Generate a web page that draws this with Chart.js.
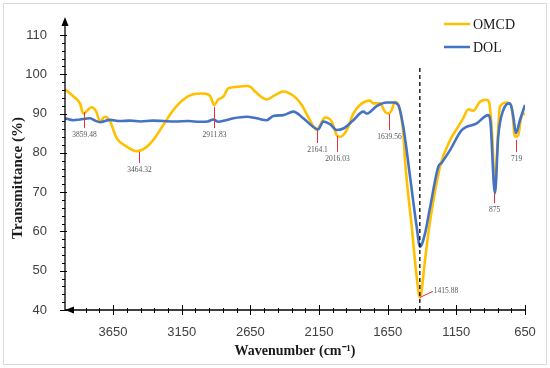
<!DOCTYPE html>
<html>
<head>
<meta charset="utf-8">
<script src="https://cdn.jsdelivr.net/npm/chart.js@4"></script>
<style>
html,body{margin:0;padding:0;background:#fff;}
#wrap{width:550px;height:368px;position:relative;}
</style>
</head>
<body>
<div id="wrap"><canvas id="c" width="550" height="368"></canvas></div>
<script>
// ---- data ----
const seriesNames = ['OMCD', 'DOL'];
const omcdWavenumber = [4000,3940,3891,3867,3806,3774,3745,3709,3672,3623,3551,3478,3417,3357,3284,3211,3138,3066,2993,2944,2913,2884,2847,2811,2750,2677,2645,2616,2531,2471,2410,2361,2313,2276,2216,2167,2143,2106,2058,2021,1997,1948,1900,1852,1779,1755,1706,1670,1646,1621,1597,1573,1536,1524,1475,1439,1415,1378,1352,1329,1269,1196,1140,1100,1063,1027,978,929,910,890,868,847,832,783,747,723,699,674,650];
const omcdValues     = [96.2,94.4,92.6,90.0,91.6,90.6,88.0,89.2,88.0,83.7,81.6,80.4,81.2,83.3,87.1,90.9,93.6,94.9,95.1,94.5,92.2,93.6,94.3,96.4,96.8,97.0,96.7,95.6,93.6,94.7,95.6,95.1,93.8,92.2,88.3,85.8,87.0,89.0,88.0,84.5,84.1,85.8,90.0,92.2,93.3,92.6,92.6,90.5,90.0,90.9,93.0,92.2,85.0,78.2,61.2,48.5,43.2,52.7,60.0,65.4,76.5,83.2,86.5,88.8,91.1,90.7,93.0,93.5,92.6,85.0,71.0,85.0,91.8,92.8,91.8,84.1,84.5,89.6,90.0];
const dolWavenumber  = [4000,3940,3891,3818,3780,3745,3672,3600,3527,3450,3360,3286,3200,3100,3017,2960,2920,2884,2830,2774,2677,2604,2531,2483,2410,2337,2265,2192,2155,2119,2070,2021,1973,1900,1828,1803,1730,1657,1609,1573,1536,1487,1439,1415,1378,1342,1281,1257,1196,1111,1002,918,902,869,845,808,759,735,716,687,650];
const dolValues      = [88.8,88.3,88.5,88.8,88.2,87.8,88.4,88.1,88.2,88.0,88.2,88.1,88.0,88.1,87.9,88.0,88.5,87.9,88.3,88.8,89.2,88.8,88.3,89.4,89.6,90.5,88.8,86.6,86.0,88.0,87.3,85.8,86.2,88.3,90.5,90.0,91.9,92.8,92.8,92.2,86.6,73.9,61.2,56.1,59.5,66.0,76.5,77.5,80.7,85.8,87.5,89.6,88.0,69.7,84.1,90.9,92.6,89.2,85.0,88.3,92.2];
const xTickLabels = [3650, 3150, 2650, 2150, 1650, 1150, 650];
const yTickLabels = [40, 50, 60, 70, 80, 90, 100, 110];
const peakWavenumbers = [3859.48, 3464.32, 2911.83, 2164.1, 2016.03, 1639.56, 875, 719];
const peakLabels      = ['3859.48', '3464.32', '2911.83', '2164.1', '2016.03', '1639.56', '875', '719'];
const peakTop         = [90.4, 80.2, 91.7, 85.8, 84.3, 89.9, 69.8, 83.3];
const peakBottom      = [86.3, 77.4, 86.3, 82.5, 80.2, 85.8, 67.2, 80.2];
const mainPeak = 1415.88, mainPeakLabel = '1415.88', mainPeakValue = 43.2;

const colors = ['#FFC000', '#4472C4'];

function pts(xs, ys){ return xs.map((x,i)=>({x:x, y:ys[i]})); }

const deco = {
  id: 'deco',
  beforeDraw(chart){
    const c = chart.ctx;
    c.save();
    c.fillStyle = '#fff';
    c.fillRect(0,0,chart.width,chart.height);
    c.strokeStyle = '#d9d9d9';
    c.lineWidth = 1;
    c.strokeRect(3.5,3.5,543,361);
    c.restore();
  },
  afterDatasetsDraw(chart){
    const c = chart.ctx, xs = chart.scales.x, ys = chart.scales.y;
    c.save();
    const xp = xs.getPixelForValue(mainPeak);
    c.strokeStyle = '#000'; c.lineWidth = 1.3; c.setLineDash([4,3]);
    c.beginPath(); c.moveTo(xp, ys.getPixelForValue(101.6)); c.lineTo(xp, ys.getPixelForValue(40)); c.stroke();
    c.setLineDash([]);
    c.strokeStyle = '#e8303a'; c.lineWidth = 1;
    c.fillStyle = '#555';
    c.font = '7.5px "Liberation Serif"';
    c.textAlign = 'center'; c.textBaseline = 'top';
    peakWavenumbers.forEach((w,i)=>{
      const px = Math.round(xs.getPixelForValue(w)) + 0.5;
      const y1 = ys.getPixelForValue(peakTop[i]), y2 = ys.getPixelForValue(peakBottom[i]);
      c.beginPath(); c.moveTo(px,y1); c.lineTo(px,y2); c.stroke();
      c.fillText(peakLabels[i], px, y2 + 3);
    });
    const my = ys.getPixelForValue(mainPeakValue);
    c.beginPath(); c.moveTo(xp, my); c.lineTo(xp+13, my-6); c.stroke();
    c.textAlign = 'left'; c.textBaseline = 'middle';
    c.fillText(mainPeakLabel, xp+14, my-6);
    c.restore();
  },
  afterDraw(chart){
    const c = chart.ctx, xs = chart.scales.x, ys = chart.scales.y, a = chart.chartArea;
    c.save();
    c.strokeStyle = '#000'; c.fillStyle = '#000'; c.lineWidth = 1.3;
    const ax = a.left, ay = a.bottom;
    c.beginPath(); c.moveTo(ax, ay); c.lineTo(ax, a.top - 14); c.stroke();
    c.beginPath(); c.moveTo(ax, ay); c.lineTo(a.right, ay); c.stroke();
    c.beginPath(); c.moveTo(ax, a.top - 18); c.lineTo(ax-3.5, a.top - 9); c.lineTo(ax+3.5, a.top - 9); c.closePath(); c.fill();
    c.beginPath(); c.moveTo(ax, ay); c.lineTo(ax+9, ay-3.5); c.lineTo(ax+9, ay+3.5); c.closePath(); c.fill();
    c.lineWidth = 1;
    for (let v = 40; v <= 110; v += 2){
      const py = Math.round(ys.getPixelForValue(v)) + 0.5;
      c.beginPath();
      if (v % 10 === 0){ c.moveTo(ax-5, py); c.lineTo(ax+2, py); }
      else { c.moveTo(ax-3, py); c.lineTo(ax, py); }
      c.stroke();
    }
    for (let w = 650; w <= 3950; w += 100){
      const px = Math.round(xs.getPixelForValue(w)) + 0.5;
      c.beginPath();
      if ((w - 650) % 500 === 0){ c.moveTo(px, ay-5); c.lineTo(px, ay+5); }
      else { c.moveTo(px, ay-2); c.lineTo(px, ay+3); }
      c.stroke();
    }
    c.fillStyle = '#1a1a1a';
    c.font = 'bold 14px "Liberation Serif"';
    c.textAlign = 'center'; c.textBaseline = 'middle';
    c.fillText('Wavenumber (cm\u207B\u00B9)', 295, 351);
    c.save();
    c.translate(18, 178); c.rotate(-Math.PI/2);
    c.font = 'bold 15px "Liberation Serif"';
    c.fillText('Transmittance (%)', 0, 0);
    c.restore();
    c.font = '14px "Liberation Serif"';
    c.textAlign = 'left';
    seriesNames.forEach((n,i)=>{
      const y = 24 + i*23;
      c.strokeStyle = colors[i]; c.lineWidth = 2.5;
      c.beginPath(); c.moveTo(444, y); c.lineTo(470, y); c.stroke();
      c.fillStyle = '#1a1a1a';
      c.fillText(n, 473, y+1);
    });
    c.restore();
  }
};

new Chart(document.getElementById('c'), {
  type: 'line',
  data: {
    datasets: [
      { label: seriesNames[0], data: pts(omcdWavenumber, omcdValues), borderColor: colors[0], borderWidth: 2.6, pointRadius: 0, cubicInterpolationMode: 'monotone', order: 1 },
      { label: seriesNames[1], data: pts(dolWavenumber, dolValues), borderColor: colors[1], borderWidth: 2.6, pointRadius: 0, cubicInterpolationMode: 'monotone', order: 0 }
    ]
  },
  options: {
    responsive: false,
    animation: false,
    layout: { padding: { top: 35, right: 25, left: 0, bottom: 0 } },
    plugins: { legend: { display: false }, tooltip: { enabled: false } },
    scales: {
      x: {
        type: 'linear', reverse: true, min: 650, max: 4000,
        grid: { display: false }, border: { display: false },
        afterBuildTicks: s => { s.ticks = xTickLabels.map(v => ({ value: v })); },
        afterFit: s => { s.height = 58; },
        ticks: { font: { family: 'Liberation Sans', size: 13 }, color: '#404040', padding: 7, maxRotation: 0, callback: v => String(v) }
      },
      y: {
        min: 40, max: 110,
        grid: { display: false }, border: { display: false },
        afterBuildTicks: s => { s.ticks = yTickLabels.map(v => ({ value: v })); },
        afterFit: s => { s.width = 65; },
        ticks: { font: { family: 'Liberation Sans', size: 13 }, color: '#404040', padding: 10, callback: v => String(v) }
      }
    }
  },
  plugins: [deco]
});
</script>
</body>
</html>
